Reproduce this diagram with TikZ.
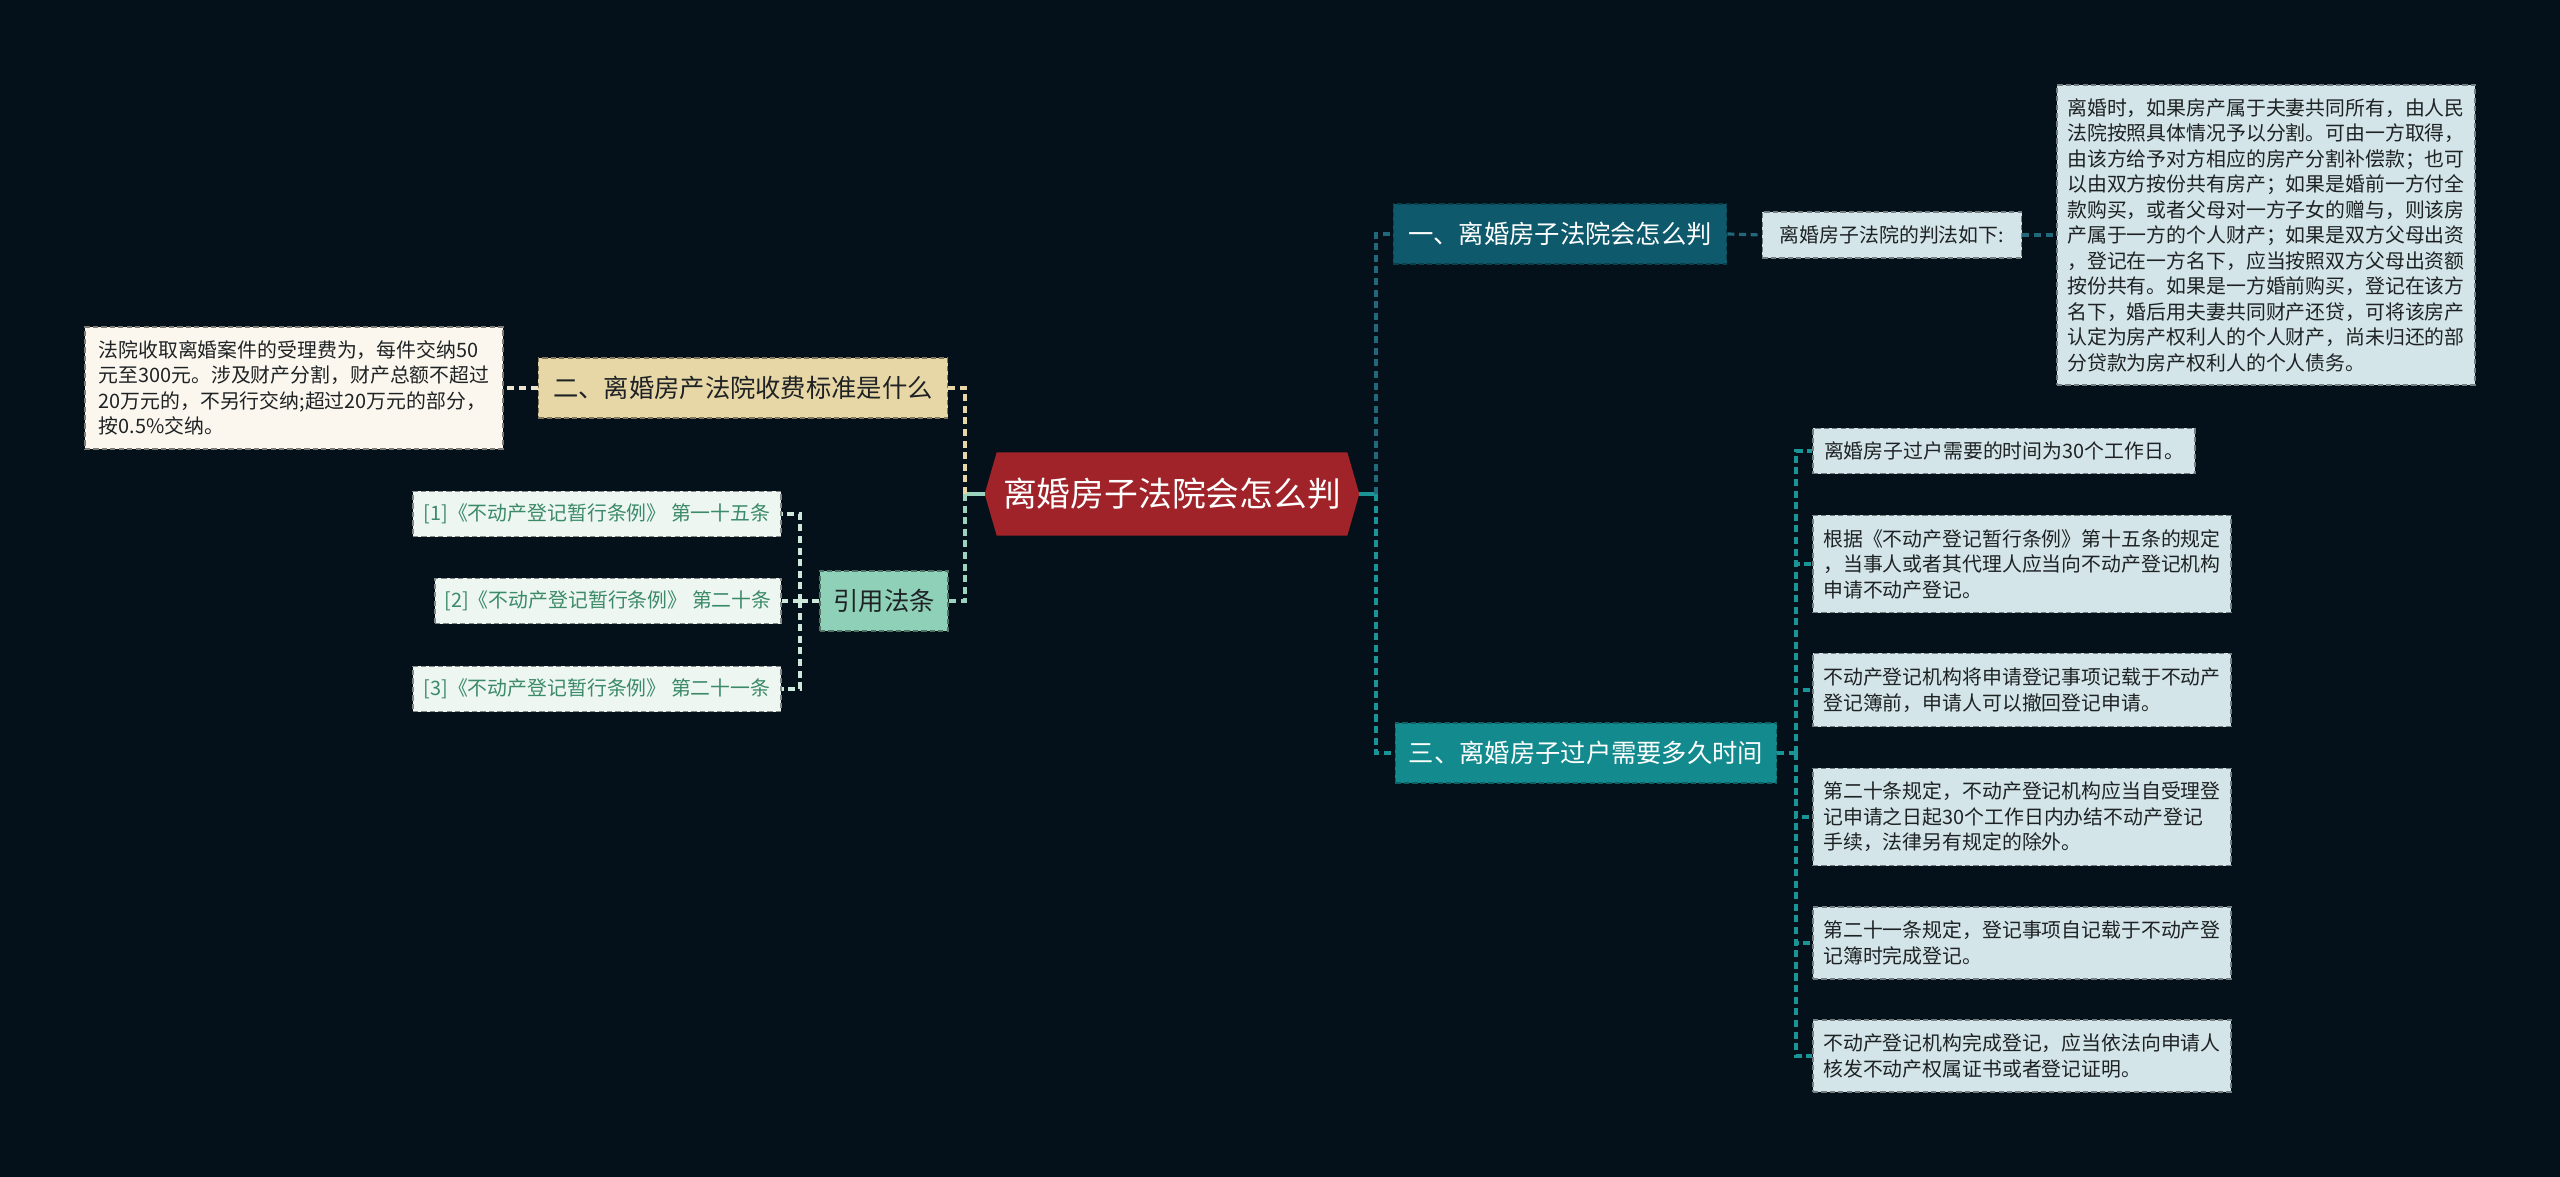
\documentclass[tikz,border=0pt]{standalone}
\usepackage{fontspec}
\setmainfont{Noto Sans CJK SC}
\usetikzlibrary{backgrounds}

\definecolor{bg}{HTML}{04111A}
\definecolor{rootred}{HTML}{A0232A}
\definecolor{onefill}{HTML}{0E5A6C}
\definecolor{threefill}{HTML}{138B8E}
\definecolor{twofill}{HTML}{E8D7A6}
\definecolor{citefill}{HTML}{8FD0B8}
\definecolor{reffill}{HTML}{EDF6F1}
\definecolor{reftext}{HTML}{3B8A68}
\definecolor{notefill}{HTML}{D3E5E8}
\definecolor{feefill}{HTML}{FBF7EE}
\definecolor{darktext}{HTML}{1E2224}
\definecolor{lineone}{HTML}{21687A}
\definecolor{linethree}{HTML}{1A9597}
\definecolor{linetan}{HTML}{E8D7A6}
\definecolor{linemint}{HTML}{9BD3BF}
\definecolor{linecream}{HTML}{ECE4CC}
\definecolor{lineref}{HTML}{CFE8DC}

\newcommand\rootfont{\fontsize{9.6pt}{12pt}\selectfont}
\newcommand\mainfont{\fontsize{7.2pt}{9pt}\selectfont}
\newcommand\notefont{\fontsize{5.65pt}{7.25pt}\selectfont}

\begin{document}
\begin{tikzpicture}[x=0.01cm, y=-0.01cm]
    \tikzstyle{box} = [shape=rectangle, inner sep=0pt, draw, line width=0.45pt, dash pattern=on 1.5pt off 0.9pt]
    \tikzstyle{rootbox} = [shape=rectangle, inner sep=0pt, minimum width=3.73cm, minimum height=0.82cm, text=white, font=\rootfont]
    \tikzstyle{topic} = [box, minimum height=0.6cm, text=white, font=\mainfont]
    \tikzstyle{note} = [box, fill=notefill, draw=notefill!55!black, text=darktext, font=\notefont, align=left]
    \tikzstyle{ref} = [box, fill=reffill, draw=reffill!55!black, text=reftext, font=\notefont, minimum height=0.45cm]
    \tikzstyle{link} = [line width=0.9pt, dash pattern=on 2pt off 1.3pt]
    \tikzstyle{stub} = [line width=0.9pt]

    \useasboundingbox (0,0) rectangle (2560,1177);

    % centre
    \node (root) [rootbox] at (1172,494) {离婚房子法院会怎么判};

    % right side
    \node (one) [topic, fill=onefill, draw=onefill!70!black, minimum width=3.33cm] at (1560,234) {一、离婚房子法院会怎么判};
    \node (oneA) [note, minimum width=2.59cm, minimum height=0.46cm] at (1892,235) {离婚房子法院的判法如下:};
    \node (oneB) [note, minimum width=4.18cm, minimum height=3cm] at (2266,235)
        {离婚时，如果房产属于夫妻共同所有，由人民\\
         法院按照具体情况予以分割。可由一方取得，\\
         由该方给予对方相应的房产分割补偿款；也可\\
         以由双方按份共有房产；如果是婚前一方付全\\
         款购买，或者父母对一方子女的赠与，则该房\\
         产属于一方的个人财产；如果是双方父母出资\\
         ，登记在一方名下，应当按照双方父母出资额\\
         按份共有。如果是一方婚前购买，登记在该方\\
         名下，婚后用夫妻共同财产还贷，可将该房产\\
         认定为房产权利人的个人财产，尚未归还的部\\
         分贷款为房产权利人的个人债务。};

    \node (three) [topic, fill=threefill, draw=threefill!70!black, minimum width=3.81cm] at (1586,753) {三、离婚房子过户需要多久时间};
    \node (c1) [note, minimum width=3.82cm, minimum height=0.45cm] at (2004,451) {离婚房子过户需要的时间为30个工作日。};
    \node (c2) [note, minimum width=4.18cm, minimum height=0.97cm] at (2022,564)
        {根据《不动产登记暂行条例》第十五条的规定\\
         ，当事人或者其代理人应当向不动产登记机构\\
         申请不动产登记。};
    \node (c3) [note, minimum width=4.18cm, minimum height=0.73cm] at (2022,690)
        {不动产登记机构将申请登记事项记载于不动产\\
         登记簿前，申请人可以撤回登记申请。};
    \node (c4) [note, minimum width=4.18cm, minimum height=0.97cm] at (2022,817)
        {第二十条规定，不动产登记机构应当自受理登\\
         记申请之日起30个工作日内办结不动产登记\\
         手续，法律另有规定的除外。};
    \node (c5) [note, minimum width=4.18cm, minimum height=0.72cm] at (2022,943)
        {第二十一条规定，登记事项自记载于不动产登\\
         记簿时完成登记。};
    \node (c6) [note, minimum width=4.18cm, minimum height=0.72cm] at (2022,1056)
        {不动产登记机构完成登记，应当依法向申请人\\
         核发不动产权属证书或者登记证明。};

    % left side
    \node (two) [topic, fill=twofill, draw=twofill!55!black, text=darktext, minimum width=4.09cm] at (743,388) {二、离婚房产法院收费标准是什么};
    \node (fee) [note, fill=feefill, draw=feefill!50!black, minimum width=4.18cm, minimum height=1.22cm] at (294,388)
        {法院收取离婚案件的受理费为，每件交纳50\\
         元至300元。涉及财产分割，财产总额不超过\\
         20万元的，不另行交纳;超过20万元的部分，\\
         按0.5\%交纳。};

    \node (cite) [topic, fill=citefill, draw=citefill!55!black, text=darktext, minimum width=1.28cm] at (884,601) {引用法条};
    \node (r1) [ref, minimum width=3.68cm] at (597,514) {[1]《不动产登记暂行条例》 第一十五条};
    \node (r2) [ref, minimum width=3.46cm] at (608,601) {[2]《不动产登记暂行条例》 第二十条};
    \node (r3) [ref, minimum width=3.68cm] at (597,689) {[3]《不动产登记暂行条例》 第二十一条};

    \coordinate (lt) at (965,494);
    \coordinate (rt) at (1376,494);
    \coordinate (lt2) at (800,601);
    \coordinate (rt2) at (1796,753);

    \begin{scope}[on background layer]
        \fill [bg] (0,0) rectangle (2560,1177);
        \fill [rootred] (root.west) -- ([shift={(12,0)}]root.north west) -- ([shift={(-12,0)}]root.north east)
            -- (root.east) -- ([shift={(-12,0)}]root.south east) -- ([shift={(12,0)}]root.south west) -- cycle;
    \end{scope}

    % connectors
    \draw [stub, linethree] (root.east) -- (rt);
    \draw [link, lineone] (rt) |- (one.west);
    \draw [link, linethree] (rt) |- (three.west);
    \draw [link, lineone] (one.east) -- (oneA.west);
    \draw [link, lineone] (oneA.east) -- (oneB.west);
    \draw [link, linethree] (three.east) -- (rt2);
    \foreach \c in {c1,c2,c3,c4,c5,c6}
        \draw [link, linethree] (rt2) |- (\c.west);

    \draw [stub, linemint] (root.west) -- (lt);
    \draw [link, linetan] (lt) |- (two.east);
    \draw [link, linemint] (lt) |- (cite.east);
    \draw [link, linecream] (two.west) -- (fee.east);
    \draw [link, lineref] (cite.west) -- (lt2);
    \foreach \r in {r1,r2,r3}
        \draw [link, lineref] (lt2) |- (\r.east);
\end{tikzpicture}
\end{document}
